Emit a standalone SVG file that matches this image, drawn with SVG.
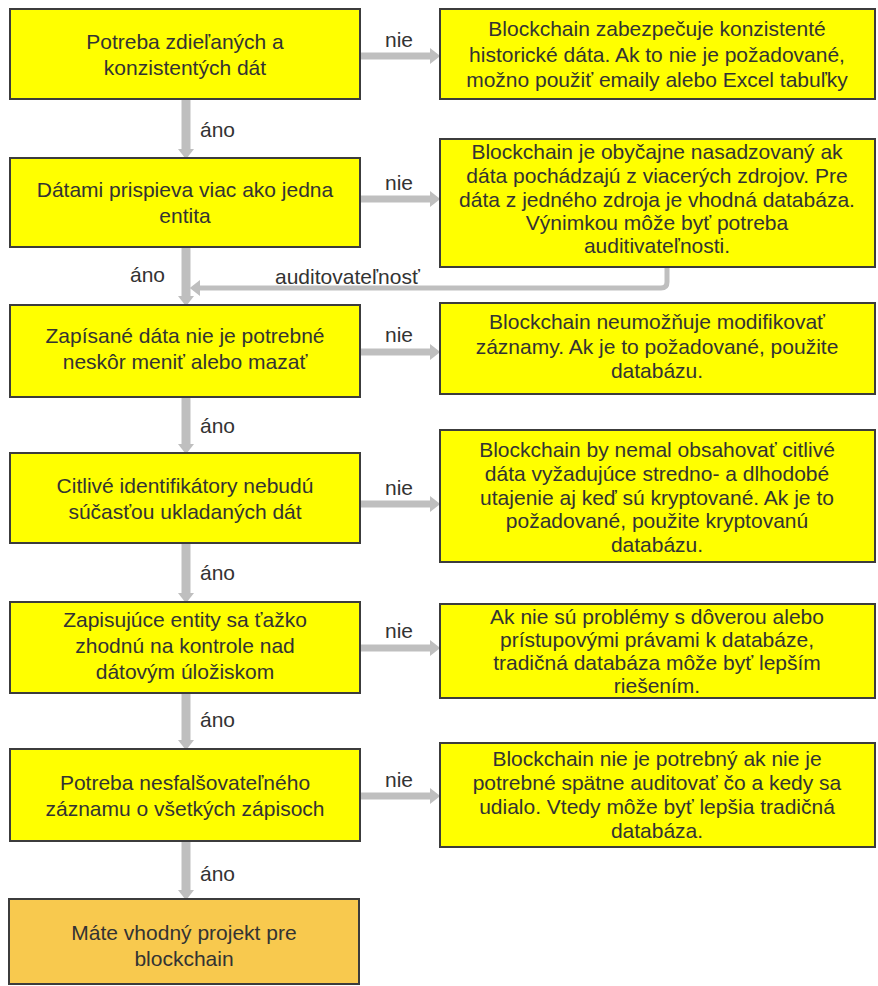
<svg xmlns="http://www.w3.org/2000/svg" width="878" height="986" viewBox="0 0 878 986">
<defs>
<style>
.box{fill:#FFFF00;stroke:#3C3C3C;stroke-width:2}
.end{fill:#F8C94E;stroke:#3C3C3C;stroke-width:2}
.t{font-family:"Liberation Sans",Arial,sans-serif;font-size:21px;fill:#333333;text-anchor:middle}
.lbl{font-family:"Liberation Sans",Arial,sans-serif;font-size:21px;fill:#333333}
.v{stroke:#BFBFBF;stroke-width:9;fill:none;marker-end:url(#ah)}
.h{stroke:#BFBFBF;stroke-width:7;fill:none;marker-end:url(#ah)}
.fb{stroke:#BFBFBF;stroke-width:5;fill:none;marker-end:url(#ah)}
</style>
<marker id="ah" markerUnits="userSpaceOnUse" markerWidth="12" markerHeight="16" refX="0" refY="7" orient="auto" viewBox="0 0 9 14">
<path d="M0,0 L9,7 L0,14 z" fill="#BFBFBF"/>
</marker>
</defs>
<rect width="878" height="986" fill="#FFFFFF"/>

<g id="connectors">
<line class="v" x1="186" y1="100" x2="186" y2="149"/>
<line class="v" x1="186" y1="248" x2="186" y2="296"/>
<line class="v" x1="186" y1="398" x2="186" y2="444"/>
<line class="v" x1="186" y1="544" x2="186" y2="593"/>
<line class="v" x1="186" y1="694" x2="186" y2="740"/>
<line class="v" x1="186" y1="842" x2="186" y2="890"/>
<line class="h" x1="361" y1="56" x2="430" y2="56"/>
<line class="h" x1="361" y1="199" x2="430" y2="199"/>
<line class="h" x1="361" y1="352" x2="430" y2="352"/>
<line class="h" x1="361" y1="504" x2="430" y2="504"/>
<line class="h" x1="361" y1="648" x2="430" y2="648"/>
<line class="h" x1="361" y1="796" x2="430" y2="796"/>
<path class="fb" d="M667,268 L667,282 Q667,288 661,288 L200,288"/>
<text class="lbl" x="200" y="137">áno</text>
<text class="lbl" x="130" y="282">áno</text>
<text class="lbl" x="275" y="284">auditovateľnosť</text>
<text class="lbl" x="200" y="433">áno</text>
<text class="lbl" x="200" y="580">áno</text>
<text class="lbl" x="200" y="727">áno</text>
<text class="lbl" x="200" y="881">áno</text>
<text class="t" x="399" y="47">nie</text>
<text class="t" x="399" y="190">nie</text>
<text class="t" x="399" y="342">nie</text>
<text class="t" x="399" y="495">nie</text>
<text class="t" x="399" y="638">nie</text>
<text class="t" x="399" y="787">nie</text>
</g>

<g id="q1">
<rect class="box" x="10" y="9" width="350" height="90"/>
<text class="t" x="185" y="49">Potreba zdieľaných a</text>
<text class="t" x="185" y="75">konzistentých dát</text>
</g>
<g id="q2">
<rect class="box" x="10" y="158" width="350" height="89"/>
<text class="t" x="185" y="197">Dátami prispieva viac ako jedna</text>
<text class="t" x="185" y="223">entita</text>
</g>
<g id="q3">
<rect class="box" x="10" y="305" width="350" height="92"/>
<text class="t" x="185" y="343">Zapísané dáta nie je potrebné</text>
<text class="t" x="185" y="369">neskôr meniť alebo mazať</text>
</g>
<g id="q4">
<rect class="box" x="10" y="453" width="350" height="90"/>
<text class="t" x="185" y="493">Citlivé identifikátory nebudú</text>
<text class="t" x="185" y="519">súčasťou ukladaných dát</text>
</g>
<g id="q5">
<rect class="box" x="10" y="602" width="350" height="91"/>
<text class="t" x="185" y="627">Zapisujúce entity sa ťažko</text>
<text class="t" x="185" y="653">zhodnú na kontrole nad</text>
<text class="t" x="185" y="679">dátovým úložiskom</text>
</g>
<g id="q6">
<rect class="box" x="10" y="749" width="350" height="92"/>
<text class="t" x="185" y="790">Potreba nesfalšovateľného</text>
<text class="t" x="185" y="816">záznamu o všetkých zápisoch</text>
</g>
<g id="result">
<rect class="end" x="9" y="899" width="350" height="85"/>
<text class="t" x="184" y="940">Máte vhodný projekt pre</text>
<text class="t" x="184" y="966">blockchain</text>
</g>

<g id="a1">
<rect class="box" x="440" y="9" width="435" height="90"/>
<text class="t" x="657" y="36">Blockchain zabezpečuje konzistenté</text>
<text class="t" x="657" y="62">historické dáta. Ak to nie je požadované,</text>
<text class="t" x="657" y="87">možno použiť emaily alebo Excel tabuľky</text>
</g>
<g id="a2">
<rect class="box" x="440" y="139" width="435" height="128"/>
<text class="t" x="657" y="159">Blockchain je obyčajne nasadzovaný ak</text>
<text class="t" x="657" y="183">dáta pochádzajú z viacerých zdrojov. Pre</text>
<text class="t" x="657" y="207">dáta z jedného zdroja je vhodná databáza.</text>
<text class="t" x="657" y="230">Výnimkou môže byť potreba</text>
<text class="t" x="657" y="253">auditivateľnosti.</text>
</g>
<g id="a3">
<rect class="box" x="440" y="303" width="435" height="91"/>
<text class="t" x="657" y="329">Blockchain neumožňuje modifikovať</text>
<text class="t" x="657" y="354">záznamy. Ak je to požadované, použite</text>
<text class="t" x="657" y="378">databázu.</text>
</g>
<g id="a4">
<rect class="box" x="440" y="430" width="435" height="132"/>
<text class="t" x="657" y="457">Blockchain by nemal obsahovať  citlivé</text>
<text class="t" x="657" y="481">dáta  vyžadujúce stredno- a dlhodobé</text>
<text class="t" x="657" y="505">utajenie aj keď sú kryptované. Ak je to</text>
<text class="t" x="657" y="528">požadované, použite kryptovanú</text>
<text class="t" x="657" y="552">databázu.</text>
</g>
<g id="a5">
<rect class="box" x="440" y="604" width="435" height="94"/>
<text class="t" x="657" y="624">Ak nie sú problémy s dôverou alebo</text>
<text class="t" x="657" y="647">prístupovými právami k databáze,</text>
<text class="t" x="657" y="670">tradičná databáza môže byť lepším</text>
<text class="t" x="657" y="693">riešením.</text>
</g>
<g id="a6">
<rect class="box" x="440" y="743" width="435" height="104"/>
<text class="t" x="657" y="766">Blockchain nie je potrebný ak nie  je</text>
<text class="t" x="657" y="790">potrebné spätne auditovať čo a kedy sa</text>
<text class="t" x="657" y="814">udialo. Vtedy môže byť lepšia tradičná</text>
<text class="t" x="657" y="838">databáza.</text>
</g>
</svg>
